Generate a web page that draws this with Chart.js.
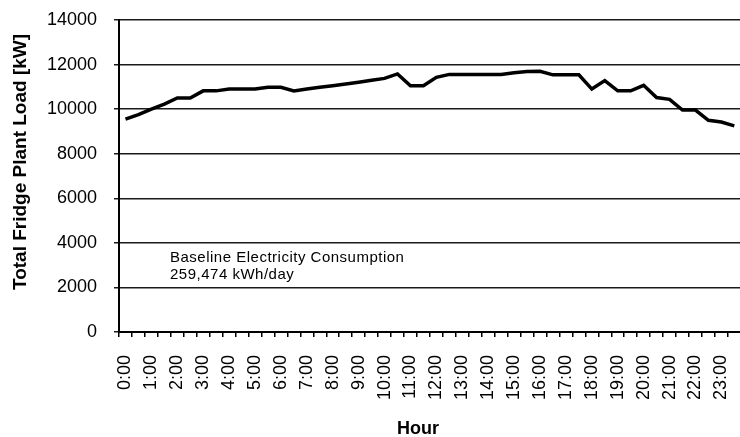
<!DOCTYPE html>
<html><head><meta charset="utf-8">
<script src="https://cdn.jsdelivr.net/npm/chart.js@4/dist/chart.umd.min.js"></script>
<style>
html,body{margin:0;padding:0;background:#fff;overflow:hidden;width:740px;height:437px}
#wrap{width:774px;height:437px;position:relative}
</style>
</head><body><div id="wrap"><canvas id="c" width="774" height="437"></canvas></div>
<script>
const timeSlots = ["0:00","0:30","1:00","1:30","2:00","2:30","3:00","3:30","4:00","4:30","5:00","5:30",
  "6:00","6:30","7:00","7:30","8:00","8:30","9:00","9:30","10:00","10:30","11:00","11:30",
  "12:00","12:30","13:00","13:30","14:00","14:30","15:00","15:30","16:00","16:30","17:00","17:30",
  "18:00","18:30","19:00","19:30","20:00","20:30","21:00","21:30","22:00","22:30","23:00","23:30"];
const plantLoadKW = [9550,9750,10000,10230,10500,10500,10820,10820,10900,10900,10900,10980,
  10980,10820,10900,10980,11050,11130,11210,11300,11380,11580,11050,11050,
  11430,11560,11560,11560,11560,11560,11630,11690,11700,11540,11540,11540,
  10900,11280,10820,10820,11070,10520,10440,9960,9960,9500,9420,9250];
const yTicks = [0,2000,4000,6000,8000,10000,12000,14000];
const yTitle = "Total Fridge Plant Load [kW]";
const xTitle = "Hour";
const noteLines = ["Baseline Electricity Consumption","259,474 kWh/day"];

const FONT = "'Liberation Sans', Arial, sans-serif";

const textPlugin = {
  id: 'texts',
  afterDraw(chart) {
    const ctx = chart.ctx, a = chart.chartArea;
    ctx.save();
    ctx.fillStyle = '#000';
    ctx.font = "bold 19px " + FONT;
    ctx.textAlign = 'center';
    ctx.textBaseline = 'middle';
    ctx.translate(21, a.top + 142);
    ctx.rotate(-Math.PI/2);
    ctx.fillText(yTitle, 0, 0);
    ctx.restore();
    ctx.save();
    ctx.fillStyle = '#000';
    ctx.font = "bold 18px " + FONT;
    ctx.textAlign = 'center';
    ctx.textBaseline = 'alphabetic';
    ctx.fillText(xTitle, a.left + 299, 433.5);
    ctx.font = "15px " + FONT;
    ctx.textAlign = 'left';
    try { ctx.letterSpacing = '0.5px'; } catch(e) {}
    ctx.fillText(noteLines[0], a.left + 51, 261.5);
    ctx.fillText(noteLines[1], a.left + 51, 278.5);
    ctx.restore();
  }
};

new Chart(document.getElementById('c'), {
  type: 'line',
  data: {
    labels: timeSlots,
    datasets: [{
      data: plantLoadKW,
      borderColor: '#000',
      backgroundColor: '#000',
      borderWidth: 3.5,
      pointRadius: 0,
      tension: 0,
      fill: false,
      borderJoinStyle: 'miter'
    }]
  },
  options: {
    responsive: false,
    animation: false,
    layout: { padding: { top: 20, right: 8, left: 0, bottom: 0 } },
    plugins: { legend: { display: false }, tooltip: { enabled: false }, title: { display: false } },
    scales: {
      x: {
        type: 'category',
        offset: true,
        grid: { offset: true, drawOnChartArea: false, drawTicks: true, tickLength: 5, color: '#000', lineWidth: 1.5 },
        border: { color: '#000', width: 2 },
        ticks: {
          autoSkip: false, maxRotation: 90, minRotation: 90, padding: 18,
          color: '#000', font: { family: FONT, size: 18 },
          callback: function(v, i) { return i % 2 === 0 ? this.getLabelForValue(v) : ''; }
        },
        afterFit: s => { s.height = 105; }
      },
      y: {
        min: 0, max: 14000,
        afterBuildTicks: s => { s.ticks = yTicks.map(v => ({ value: v })); },
        grid: { color: '#1a1a1a', lineWidth: 1.5, tickLength: 5, drawTicks: true },
        border: { color: '#000', width: 2 },
        ticks: { padding: 17, color: '#000', font: { family: FONT, size: 18 },
          callback: v => String(v) },
        afterFit: s => { s.width = 119; s.paddingTop = 0; s.paddingBottom = 0; }
      }
    }
  },
  plugins: [textPlugin]
});
</script>
</body></html>
